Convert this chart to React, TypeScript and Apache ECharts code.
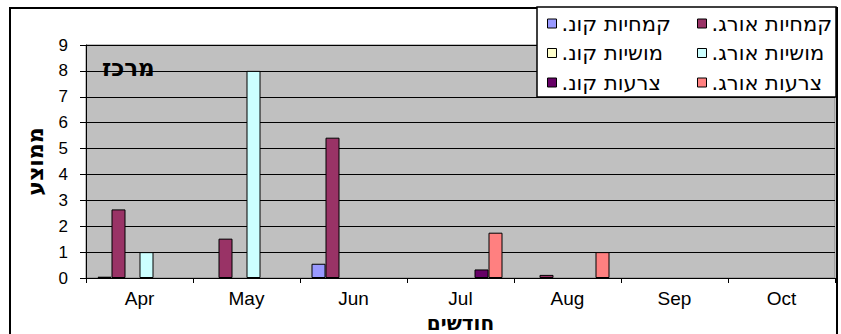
import React, { useEffect, useRef } from "react";
import * as echarts from "echarts";

const months = ["Apr", "May", "Jun", "Jul", "Aug", "Sep", "Oct"];
const RLM = "\u200F";
const seriesNames = [
  "קמחיות קונ." + RLM,
  "קמחיות אורג." + RLM,
  "מושיות קונ." + RLM,
  "מושיות אורג." + RLM,
  "צרעות קונ." + RLM,
  "צרעות אורג." + RLM,
];
const seriesColors = ["#9999FF", "#993366", "#FFFFCC", "#CCFFFF", "#660066", "#FF8080"];
const kemachKon = [0.05, null, 0.55, null, null, null, null];
const kemachOrg = [2.65, 1.52, 5.42, null, 0.12, null, null];
const moshiotKon = [null, null, null, null, null, null, null];
const moshiotOrg = [1.0, 8.0, null, null, null, null, null];
const tzraotKon = [null, null, null, 0.33, null, null, null];
const tzraotOrg = [null, null, null, 1.75, 1.0, null, null];
const seriesValues = [kemachKon, kemachOrg, moshiotKon, moshiotOrg, tzraotKon, tzraotOrg];
const yTicks = { min: 0, max: 9, interval: 1 };
const titleText = "מרכז";
const yName = "ממוצע";
const xName = "חודשים";

const FONT = 'Arial, "Liberation Sans", sans-serif';
const HEB = '"DejaVu Sans", sans-serif';

export default function App() {
  const ref = useRef<HTMLDivElement>(null);
  useEffect(() => {
    if (!ref.current) return;
    const chart = echarts.init(ref.current, null, { renderer: "svg" });
    const legendCommon = {
      orient: "vertical",
      top: 13,
      padding: 0,
      itemWidth: 9,
      itemHeight: 9,
      itemGap: 8.5,
      icon: "rect",
      itemStyle: { borderColor: "#000", borderWidth: 1 },
      textStyle: { fontFamily: HEB, fontSize: 21, color: "#000", lineHeight: 20 },
      z: 20,
    };
    chart.setOption({
      animation: false,
      backgroundColor: "#fff",
      textStyle: { fontFamily: FONT },
      title: {
        text: titleText,
        left: 102,
        top: 56,
        padding: 0,
        textStyle: { fontFamily: HEB, fontSize: 23, fontWeight: "bold", color: "#000" },
        z: 5,
      },
      graphic: [
        {
          type: "rect",
          z: 1,
          silent: true,
          shape: { x: 10, y: 8, width: 827, height: 400 },
          style: { fill: "none", stroke: "#000", lineWidth: 2 },
        },
        {
          type: "rect",
          z: 15,
          silent: true,
          shape: { x: 537, y: 7, width: 299, height: 90 },
          style: { fill: "#fff", stroke: "#000", lineWidth: 1.5 },
        },
      ],
      legend: [
        { ...legendCommon, left: 697, data: [seriesNames[1], seriesNames[3], seriesNames[5]] },
        { ...legendCommon, left: 547, data: [seriesNames[0], seriesNames[2], seriesNames[4]] },
      ],
      grid: {
        left: 86,
        right: 6,
        top: 45,
        bottom: 56,
        outerBoundsMode: "none",
        containLabel: false,
        show: true,
        backgroundColor: "#C0C0C0",
        borderColor: "#808080",
        borderWidth: 1,
      },
      xAxis: {
        type: "category",
        data: months,
        name: xName,
        nameLocation: "middle",
        nameGap: 26,
        nameTextStyle: { fontFamily: HEB, fontSize: 20, fontWeight: "bold", color: "#000", lineHeight: 20 },
        axisLine: { lineStyle: { color: "#000", width: 1 } },
        axisTick: { show: true, length: 5, lineStyle: { color: "#000" } },
        axisLabel: { fontFamily: FONT, fontSize: 19, color: "#000", margin: 11 },
      },
      yAxis: {
        type: "value",
        min: yTicks.min,
        max: yTicks.max,
        interval: yTicks.interval,
        name: yName,
        nameLocation: "middle",
        nameGap: 40,
        nameRotate: 90,
        nameTextStyle: { fontFamily: HEB, fontSize: 22, fontWeight: "bold", color: "#000", lineHeight: 22 },
        axisLine: { show: true, lineStyle: { color: "#000", width: 1 } },
        axisTick: { show: true, length: 6, lineStyle: { color: "#000" } },
        axisLabel: { fontFamily: FONT, fontSize: 17, color: "#000", margin: 18 },
        splitLine: { show: true, lineStyle: { color: "#000", width: 1 } },
      },
      series: seriesNames.map((name, i) => ({
        type: "bar",
        name,
        data: seriesValues[i].map((v) => (v == null ? "-" : v)),
        barWidth: 14,
        barGap: "0%",
        itemStyle: { color: seriesColors[i], borderColor: "#000", borderWidth: 1 },
        z: 3,
      })),
    });
    return () => chart.dispose();
  }, []);
  return (
    <div
      ref={ref}
      style={{ position: "fixed", left: 0, top: 0, width: 841, height: 334 }}
    />
  );
}
